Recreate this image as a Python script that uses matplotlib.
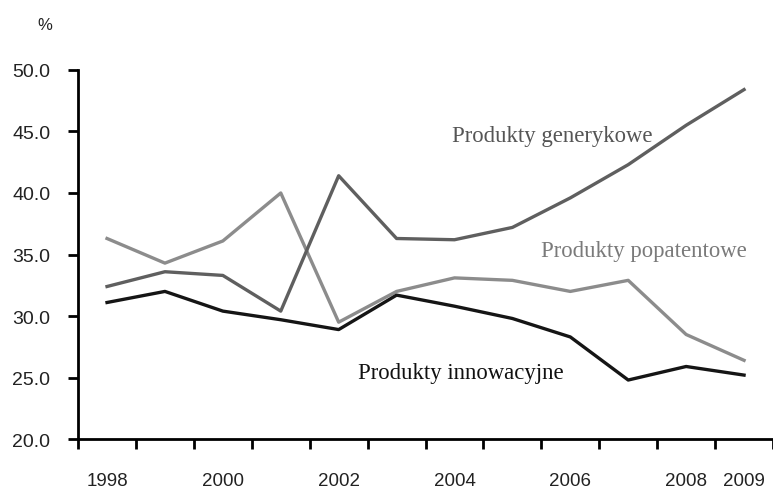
import matplotlib
matplotlib.use("Agg")
import matplotlib.pyplot as plt
import numpy as np

years = [1998, 1999, 2000, 2001, 2002, 2003, 2004, 2005, 2006, 2007, 2008, 2009]
shown_years = [1998, 2000, 2002, 2004, 2006, 2008, 2009]

generykowe = [32.4, 33.6, 33.3, 30.4, 41.4, 36.3, 36.2, 37.2, 39.6, 42.3, 45.5, 48.4]
popatentowe = [36.3, 34.3, 36.1, 40.0, 29.5, 32.0, 33.1, 32.9, 32.0, 32.9, 28.5, 26.4]
innowacyjne = [31.1, 32.0, 30.4, 29.7, 28.9, 31.7, 30.8, 29.8, 28.3, 24.8, 25.9, 25.2]

fig = plt.figure(figsize=(7.73, 4.89), dpi=100)
ax = fig.add_axes([0.101, 0.100, 0.899, 0.755])

x = np.arange(len(years))
ax.plot(x, popatentowe, color="#8c8c8c", lw=2.4)
ax.plot(x, generykowe, color="#5f5f5f", lw=2.4)
ax.plot(x, innowacyjne, color="#151515", lw=2.4)

ax.set_xlim(-0.5, len(years) - 0.5)
ax.set_ylim(20, 50)

# tick marks between categories, labels under the points
ax.set_xticks(np.arange(-0.5, len(years), 1.0))
ax.set_xticklabels([])
ax.set_xticks([years.index(y) for y in shown_years], minor=True)
ax.set_xticklabels([str(y) for y in shown_years], minor=True)
ax.tick_params(axis="x", which="major", length=7, width=2, direction="out")
ax.tick_params(axis="x", which="minor", length=0, pad=24, labelsize=13.5)

ax.set_yticks(np.arange(20, 50.1, 5))
ax.set_yticklabels(["%.1f" % v for v in np.arange(20, 50.1, 5)])
ax.tick_params(axis="y", length=7, width=2, direction="out", pad=13, labelsize=14)

for lab in ax.get_xticklabels(minor=True) + ax.get_yticklabels():
    lab.set_fontfamily("Liberation Sans")
    lab.set_color("#222222")

for s in ["top", "right"]:
    ax.spines[s].set_visible(False)
for s in ["left", "bottom"]:
    ax.spines[s].set_linewidth(2)

serif = dict(family="Liberation Serif", fontsize=16.4, ha="left", va="baseline")
ax.text(5.95, 44.2, "Produkty generykowe", color="#555555", **serif)
ax.text(7.5, 34.9, "Produkty popatentowe", color="#7a7a7a", **serif)
ax.text(4.33, 25.0, "Produkty innowacyjne", color="#111111", **serif)

fig.text(0.048, 0.939, "%", family="Liberation Sans", fontsize=12, color="#222222")

fig.savefig("out.png", dpi=100)
